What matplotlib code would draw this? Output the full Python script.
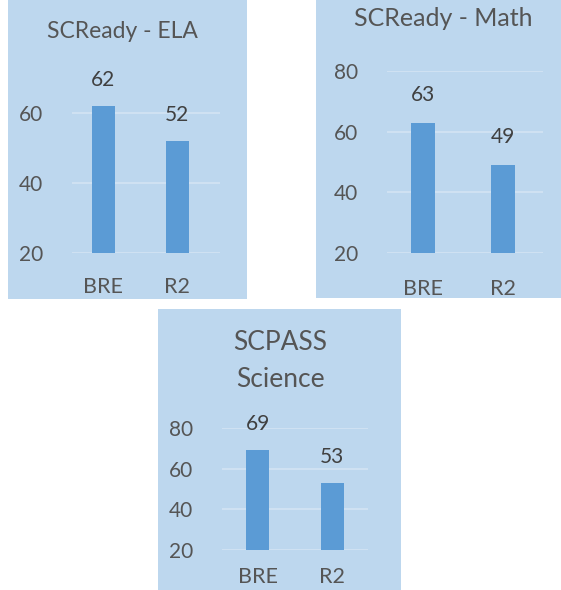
import matplotlib
matplotlib.use("Agg")
import matplotlib.pyplot as plt
from matplotlib.patches import Rectangle

plt.rcParams['font.family'] = ['Lato', 'DejaVu Sans']

# data
categories = ["BRE", "R2"]
ela_values = [62, 52]
math_values = [63, 49]
science_values = [69, 53]
titles = ["SCReady - ELA", "SCReady - Math", "SCPASS\nScience"]
ela_ticks = [20, 40, 60]
math_ticks = [20, 40, 60, 80]
science_ticks = [20, 40, 60, 80]

W, H = 561, 590
BG = "#BDD7EE"
BAR = "#5B9BD5"
GRID = "#D3E4F3"
TXT = "#555555"
VAL = "#404040"

fig = plt.figure(figsize=(W / 100, H / 100), dpi=100)


def box(x0, y0, x1, y1):
    # pixel box (top-left origin) -> figure fraction
    return [x0 / W, 1 - y1 / H, (x1 - x0) / W, (y1 - y0) / H]


def panel(bg_px, ax_px, xlim, ylim, values, ticks, title, title_xy,
          width, fs_title, cat_pad, val_off):
    l, b, w, h = box(*bg_px)
    fig.patches.append(Rectangle((l, b), w, h, transform=fig.transFigure,
                                 facecolor=BG, edgecolor="none", zorder=-5))
    ax = fig.add_axes(box(*ax_px))
    ax.set_facecolor("none")
    ax.bar(range(len(categories)), [v - ylim[0] for v in values],
           bottom=ylim[0], width=width, color=BAR, zorder=3)
    ax.set_xlim(*xlim)
    ax.set_ylim(*ylim)
    ax.set_yticks(ticks)
    ax.set_xticks(range(len(categories)))
    ax.set_xticklabels(categories)
    for t in ticks:
        ax.axhline(t, color=GRID, lw=1.2, zorder=1)
    for s in ax.spines.values():
        s.set_visible(False)
    ax.tick_params(axis="y", length=0, pad=21, labelsize=15, labelcolor=TXT)
    ax.tick_params(axis="x", length=0, pad=cat_pad, labelsize=15.5, labelcolor=TXT)
    for i, v in enumerate(values):
        ax.annotate(str(v), (i, v), xytext=(0, val_off), textcoords="offset points",
                    ha="center", va="center", fontsize=15, color=VAL,
                    annotation_clip=False)
    fig.text(title_xy[0] / W, 1 - title_xy[1] / H, title, ha="center", va="center",
             fontsize=fs_title, color=TXT, linespacing=1.6)
    return ax


panel((8, 0, 247, 299), (72, 78, 220, 253), (-0.42, 1.58), (20, 70),
      ela_values, ela_ticks, titles[0], (122, 32), 0.31, 16.5, 17, 19)
panel((316, 0, 561, 298), (387, 71, 543, 253), (-0.45, 1.5), (20, 80),
      math_values, math_ticks, titles[1], (443, 18), 0.31, 18, 19, 20)
panel((158, 309, 401, 590), (222, 428, 368, 550), (-0.48, 1.48), (20, 80),
      science_values, science_ticks, titles[2], (280, 361), 0.315, 19, 12, 19)

fig.savefig("out.png", dpi=100, facecolor="white")
